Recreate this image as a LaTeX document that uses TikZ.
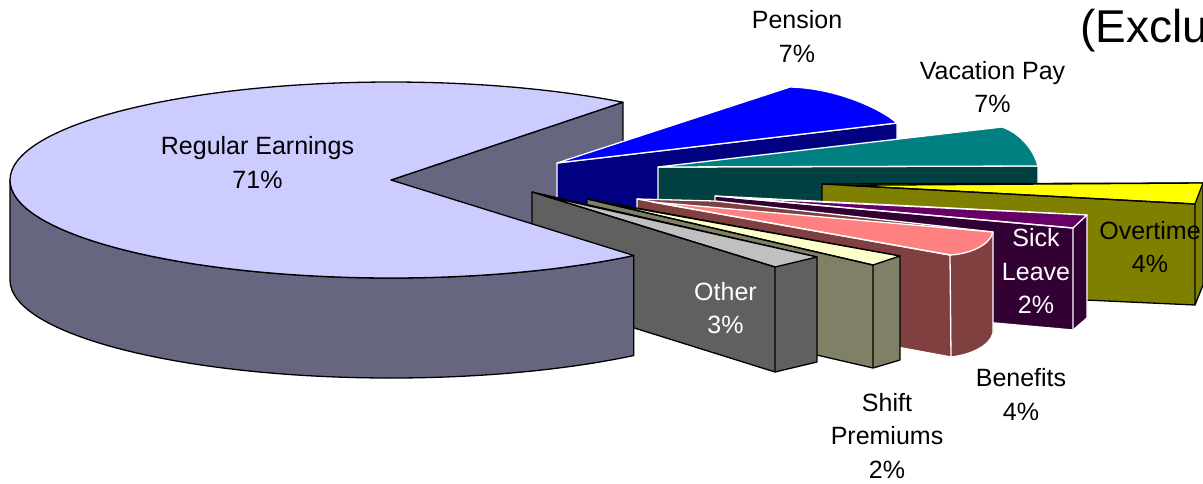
\documentclass[tikz,border=0pt]{standalone}
\usepackage{fontspec}
\setmainfont{Liberation Sans}
\usetikzlibrary{calc}
\definecolor{reTop}{HTML}{CCCCFF}
\definecolor{reSide}{HTML}{666680}
\definecolor{penTop}{HTML}{0000FF}
\definecolor{penSide}{HTML}{000080}
\definecolor{vacTop}{HTML}{008080}
\definecolor{vacSide}{HTML}{004040}
\definecolor{otTop}{HTML}{FFFF00}
\definecolor{otSide}{HTML}{808000}
\definecolor{slTop}{HTML}{660066}
\definecolor{slSide}{HTML}{330033}
\definecolor{benTop}{HTML}{FF8080}
\definecolor{benSide}{HTML}{804040}
\definecolor{shTop}{HTML}{FFFFCC}
\definecolor{shSide}{HTML}{808066}
\definecolor{othTop}{HTML}{C0C0C0}
\definecolor{othSide}{HTML}{606060}
\begin{document}
\begin{tikzpicture}[x=1pt,y=-1pt,
  lbl/.style={font=\fontsize{25}{33.5}\selectfont, align=center, inner sep=0pt, text=black},
  wlbl/.style={lbl, text=white},
  blk/.style={draw=black, line width=1.3pt, line join=round},
  wht/.style={draw=white, line width=1.3pt, line join=round},
  ell/.style={x radius=381, y radius=98}]
\useasboundingbox (0,0) rectangle (1203,483);
\fill[white] (0,0) rectangle (1203,483);
% ---------- Regular Earnings: notch face (behind everything)
\coordinate (rc) at (391,180);
\coordinate (rcb) at (391,280);
\coordinate (ru) at ($(rc)+(307.5:381 and 98)$);
\coordinate (rl) at ($(rc)+(50.4:381 and 98)$);
\path[fill=reSide, blk] (rc) -- (ru) -- ($(ru)+(0,100)$) -- (rcb) -- cycle;
% ---------- Pension
\path[fill=penSide, wht] (557,263) -- (557,163) -- (897,123) -- (897,223) -- cycle;
\path[fill=penTop, wht] (557,163) -- (790,87) .. controls (835,88) and (880,108) .. (897,123) -- cycle;
% ---------- Vacation Pay
\path[fill=vacSide, wht] (658,267) -- (658,167) -- (1038,166) -- (1038,266) -- cycle;
\path[fill=vacTop, wht] (658,167) -- (1002,127) .. controls (1020,133) and (1034,150) .. (1038,166) -- cycle;
% ---------- Overtime
\path[fill=otSide, blk] (822,288) -- (822,184) -- (1203,183) -- (1203,285) -- (1195,305) -- cycle;
\path[fill=otTop, blk] (846,185.3) -- (1203,183) -- (1195,204) -- cycle;
\path[blk] (822,184) -- (1195,204) -- (1195,305);
% ---------- Sick Leave
\path[fill=slSide, wht] (715,196) -- (1087,215) -- (1087,318) -- (1073,330) -- (715,298) -- cycle;
\path[fill=slTop, wht] (735,197.8) -- (1087,215) -- (1073,228) -- cycle;
\path[wht] (715,196) -- (1073,228) -- (1073,330);
% ---------- Benefits
\path[fill=benSide, wht] (637,199) -- (715,201) -- (993,232) -- (993,333)
   .. controls (990,346) and (970,355) .. (951,357) -- (637,299) -- cycle;
\path[fill=benTop, wht] (652,202) -- (993,232) .. controls (990,245) and (970,254) .. (950,255) -- cycle;
\path[wht] (637,199) -- (950,255) -- (951,357);
% ---------- Shift Premiums
\path[fill=shSide, blk] (587,199) -- (900,256) -- (900,360) -- (873,368) -- (587,302) -- cycle;
\path[fill=shTop, blk] (600,202) -- (900,256) -- (873,265) -- cycle;
\path[blk] (587,199) -- (873,265) -- (873,368);
% ---------- Other
\path[fill=othSide, blk] (532,192) -- (817,257) -- (817,362) -- (775,372) -- (532,296) -- cycle;
\path[fill=othTop, blk] (545,196) -- (817,257) -- (775,267) -- cycle;
\path[blk] (532,192) -- (775,267) -- (775,372);
% ---------- Regular Earnings: side and top
\path[fill=reSide, blk] (rl) arc[start angle=50.4, end angle=180, ell]
   -- ++(0,100) arc[start angle=180, end angle=50.4, ell] -- cycle;
\path[fill=reTop, blk] (rc) -- (rl) arc[start angle=50.4, end angle=307.5, ell] -- cycle;
% ---------- Labels
\node[lbl] (lre) at (257.5,162.5) {Regular Earnings\\71\%};
\node[lbl] (lpen) at (797,36.5) {Pension\\7\%};
\node[lbl] (lvac) at (992.5,87) {Vacation Pay\\7\%};
\node[lbl] (lot) at (1150,247) {Overtime\\4\%};
\node[wlbl] (lsl) at (1036,271.5) {Sick\\Leave\\2\%};
\node[wlbl] (loth) at (725.5,308) {Other\\3\%};
\node[lbl] (lben) at (1021,394.5) {Benefits\\4\%};
\node[lbl] (lsh) at (887,436) {Shift\\Premiums\\2\%};
\node[font=\fontsize{46}{50}\selectfont, inner sep=0pt, anchor=base west] (ttl) at (1080,42) {(Exclu};
\end{tikzpicture}
\end{document}
